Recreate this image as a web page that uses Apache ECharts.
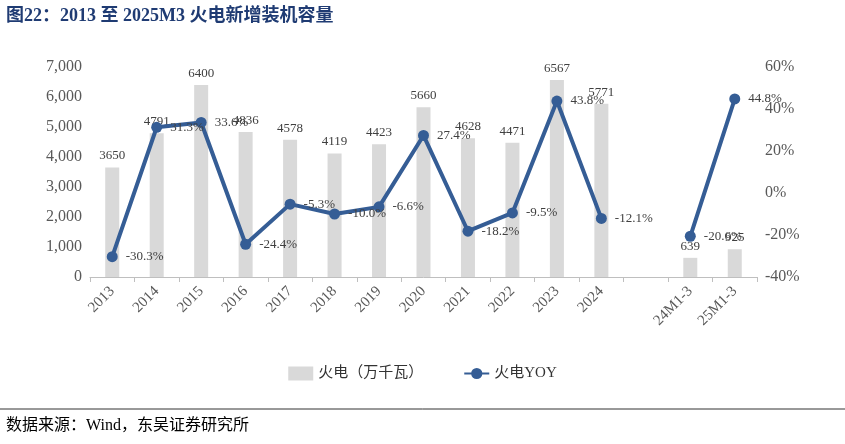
<!DOCTYPE html><html><head><meta charset="utf-8">
<script src="https://cdn.jsdelivr.net/npm/echarts@6/dist/echarts.min.js"></script>
<style>body{margin:0;background:#fff}#c{width:845px;height:444px}</style></head><body><div id="c"></div>
<script>
const categories=['2013','2014','2015','2016','2017','2018','2019','2020','2021','2022','2023','2024','','24M1-3','25M1-3'];
const capacity=[3650,4791,6400,4836,4578,4119,4423,5660,4628,4471,6567,5771,null,639,925];
const yoy=[-30.3,31.3,33.6,-24.4,-5.3,-10.0,-6.6,27.4,-18.2,-9.5,43.8,-12.1,null,-20.6,44.8];
const leftTicks={min:0,max:7000,interval:1000};
const rightTicks={min:-40,max:60,interval:20};
const serif='"Liberation Serif","Noto Sans CJK SC",serif';
const ch=echarts.init(document.getElementById('c'));
ch.setOption({
 animation:false,
 textStyle:{fontFamily:serif},
 graphic:[
  {type:'text',left:6,top:7,style:{text:'图22：2013 至 2025M3 火电新增装机容量',font:'bold 18px "Liberation Serif","Noto Sans CJK SC"',fill:'#1f3b73'}},
  {type:'line',shape:{x1:0,y1:409,x2:845,y2:409},style:{stroke:'#333',lineWidth:1}},
  {type:'text',left:6,top:418,style:{text:'数据来源：Wind，东吴证券研究所',font:'16px "Liberation Serif","Noto Sans CJK SC"',fill:'#000'}}
 ],
 legend:{bottom:58,left:'center',itemGap:40,textStyle:{fontFamily:serif,fontSize:15,color:'#333'},
  data:[{name:'火电（万千瓦）',icon:'rect'},{name:'火电YOY'}]},
 grid:{left:90,right:88,top:67,bottom:167},
 xAxis:{type:'category',data:categories,axisTick:{show:true,lineStyle:{color:'#bfbfbf'}},
  axisLine:{lineStyle:{color:'#bfbfbf'}},axisLabel:{rotate:45,interval:0,fontSize:15,margin:12,color:'#595959',fontFamily:serif}},
 yAxis:[
  {type:'value',...leftTicks,splitLine:{show:false},axisLine:{show:false},
   axisLabel:{fontSize:16,color:'#595959',fontFamily:serif,formatter:v=>v.toLocaleString('en-US')}},
  {type:'value',...rightTicks,splitLine:{show:false},axisLine:{show:false},
   axisLabel:{fontSize:16,color:'#595959',fontFamily:serif,formatter:'{value}%'}}
 ],
 series:[
  {name:'火电（万千瓦）',type:'bar',data:capacity,barWidth:14,itemStyle:{color:'#d9d9d9'},
   label:{show:true,position:'top',fontSize:13,color:'#404040',fontFamily:serif}},
  {name:'火电YOY',type:'line',yAxisIndex:1,data:yoy,symbol:'circle',symbolSize:11,
   lineStyle:{color:'#355d95',width:4},itemStyle:{color:'#355d95'},
   label:{show:true,position:'right',distance:8,fontSize:13,color:'#404040',fontFamily:serif,formatter:p=>p.value.toFixed(1)+'%'}}
 ]
});
</script></body></html>
